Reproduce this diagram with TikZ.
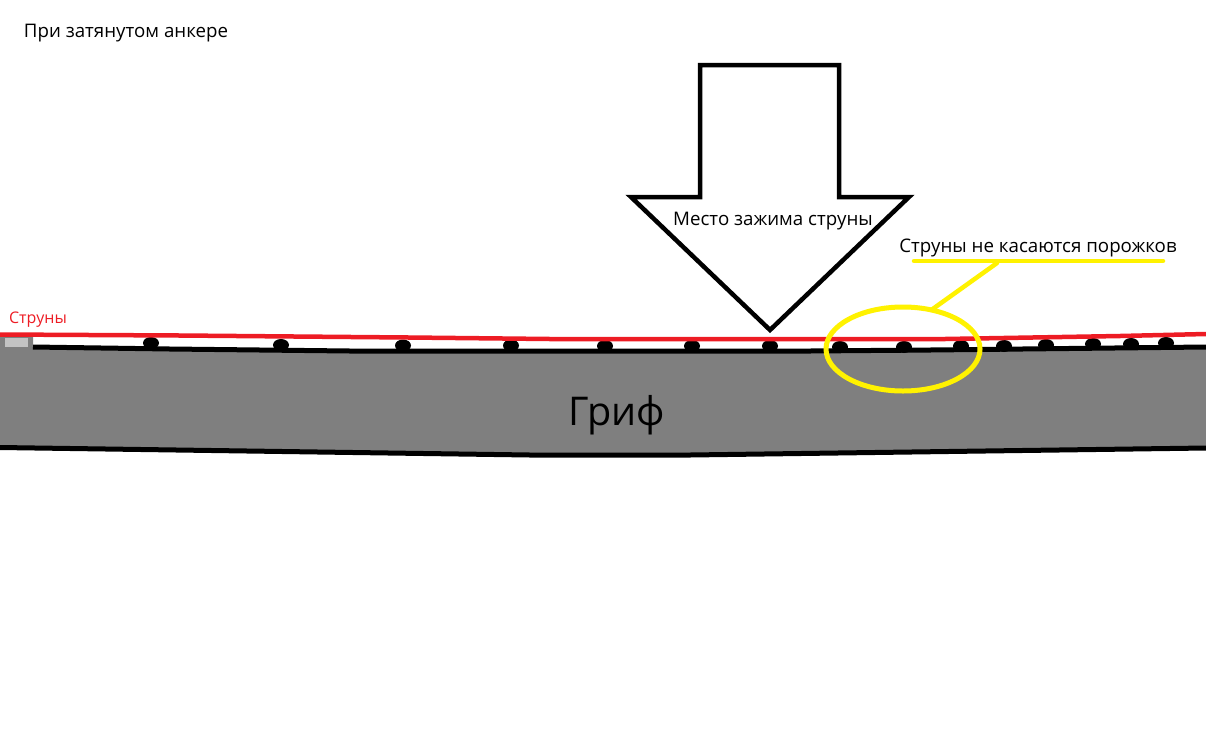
\documentclass[tikz,border=0pt]{standalone}
\usepackage{fontspec}
\setmainfont{Open Sans}
\usetikzlibrary{shapes.geometric}
\definecolor{neckgray}{HTML}{7F7F7F}
\definecolor{nutgray}{HTML}{C3C3C3}
\definecolor{stringred}{HTML}{ED1C24}
\definecolor{markyellow}{HTML}{FFF200}
\tikzset{
  blackline/.style={draw=black,line width=5pt},
  stringline/.style={draw=stringred,line width=4.5pt},
  yellowline/.style={draw=markyellow,line width=4.5pt,line cap=round},
  fretnode/.style={ellipse,fill=black,inner sep=0pt,minimum width=16pt,minimum height=12pt},
  caption/.style={inner sep=0pt,text=black,font=\fontsize{18.7}{20}\selectfont}
}
\begin{document}
\begin{tikzpicture}[x=1pt,y=-1pt]
    \useasboundingbox (0,0) rectangle (1206,734);

    % neck
    \fill [neckgray] (0,336) -- (33,336) -- (33,347) -- (170,349) -- (350,351) -- (810,351)
        -- (930,350) -- (1206,347) -- (1206,448) -- (690,455) -- (530,455) -- (0,447.5) -- cycle;
    \fill [nutgray] (5,338) rectangle (28,347);
    \draw [blackline] (33,347) -- (170,349) -- (350,351) -- (810,351) -- (930,350) -- (1206,347);
    \draw [blackline] (0,447.5) -- (530,455) -- (690,455) -- (1206,448);

    % frets
    \foreach \n/\fx/\fy in {1/151/343,2/281/345,3/403/345.5,4/511/345.5,5/605/346,6/692/346,
        7/770/346,8/840/347,9/904/347,10/961/346,11/1004/346,12/1046/345,13/1093/344,14/1131/344,15/1166/343}
        \node (fret\n) [fretnode] at (\fx,\fy) {};

    % strings
    \draw [stringline] (0,334.5) -- (180,335.5) -- (409,337.5) -- (550,339) -- (945,339)
        -- (1120,336) -- (1206,334);

    % clamp arrow
    \draw [blackline,fill=white,line width=4.5pt] (700,65) -- (839,65) -- (839,197) -- (909,197)
        -- (770,330) -- (631,197) -- (700,197) -- cycle;

    \node (title) [caption] at (126,33) {При затянутом анкере};
    \node (strings) [caption,text=stringred,font=\fontsize{16}{18}\selectfont] at (38,320) {Струны};
    \node (clamp) [caption] at (773,221) {Место зажима струны};
    \node (note) [caption] at (1038,248) {Струны не касаются порожков};
    \node (neck) [caption,font=\fontsize{39.6}{44}\selectfont] at (617,415) {Гриф};

    % yellow mark
    \node (ring) [ellipse,draw=markyellow,line width=5pt,inner sep=0pt,outer sep=0pt,
        minimum width=154pt,minimum height=84pt] at (903,349) {};
    \coordinate (ulstart) at (914,261);
    \coordinate (ulend) at (1163,261);
    \coordinate (ulfoot) at (997,263);
    \draw [yellowline] (ulstart) -- (ulend);
    \draw [yellowline] (ulfoot) -- (ring.54);
\end{tikzpicture}
\end{document}
